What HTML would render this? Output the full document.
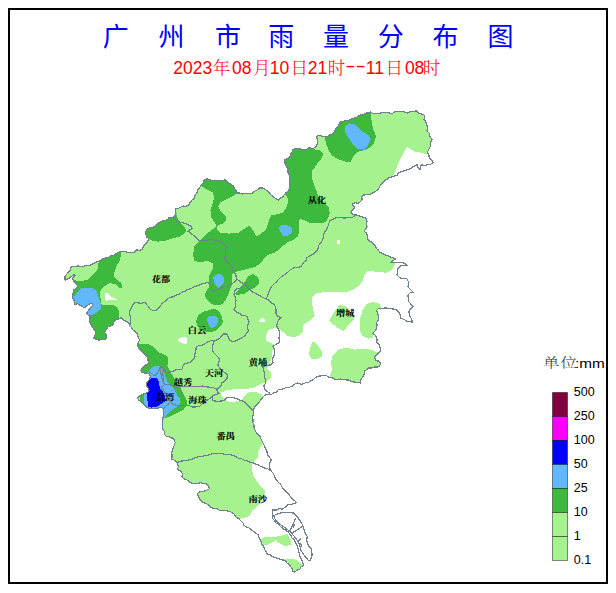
<!DOCTYPE html>
<html><head><meta charset="utf-8"><title>广州市雨量分布图</title>
<style>
html,body{margin:0;padding:0;background:#fff;}
body{width:616px;height:593px;position:relative;overflow:hidden;}
.frame{position:absolute;left:8px;top:8px;width:600px;height:576px;box-sizing:border-box;border:2px solid #000;}
</style></head><body>
<div class="frame"></div>
<svg width="616" height="593" viewBox="0 0 616 593" style="position:absolute;left:0;top:0"><defs><clipPath id="m"><polygon points="65.0,280.1 65.0,276.5 67.2,273.6 70.0,270.8 70.8,267.2 73.3,266.6 75.8,266.5 78.2,265.9 80.6,266.8 83.0,266.5 85.7,265.4 88.7,265.7 91.5,264.4 94.2,263.0 97.1,261.7 100.2,260.9 102.9,258.7 106.3,257.9 108.7,257.2 110.8,255.8 113.4,255.9 115.3,254.3 117.4,252.8 119.8,251.6 122.5,251.8 125.7,251.6 128.6,252.8 131.1,252.7 133.6,252.8 136.7,249.8 139.2,250.4 141.7,249.8 143.7,245.8 146.8,242.7 148.8,238.7 146.8,237.0 145.8,234.6 145.8,232.0 146.8,229.6 149.8,227.6 152.4,227.3 154.9,226.5 157.9,223.5 160.9,221.5 165.0,220.5 167.5,219.6 169.0,217.4 173.1,217.4 174.7,215.5 176.1,213.4 175.4,210.9 175.1,208.3 177.8,208.6 180.2,207.3 183.1,206.0 186.2,206.3 188.7,204.7 190.3,202.3 192.0,200.0 194.3,198.2 195.3,194.9 197.4,192.1 198.1,189.3 200.0,187.1 201.1,184.7 203.1,183.0 204.0,180.5 206.1,178.9 209.2,179.2 212.1,180.5 215.1,180.6 218.2,180.5 221.8,180.4 225.3,179.9 228.3,183.0 231.0,184.3 233.4,186.0 234.3,188.4 236.1,190.4 236.4,193.1 239.6,192.9 242.5,194.1 245.0,193.4 247.6,193.9 250.1,193.2 252.6,193.1 254.8,191.1 257.4,189.8 259.7,188.0 262.7,188.0 264.8,189.3 267.0,190.5 268.8,192.1 271.0,195.0 273.9,197.1 276.2,198.9 278.9,200.2 280.3,198.2 282.4,196.9 284.0,195.1 285.7,193.1 287.8,191.4 289.0,189.0 289.9,186.1 290.0,183.0 289.3,180.4 290.1,177.6 289.0,175.0 287.9,172.0 288.0,168.8 286.4,166.3 285.0,163.7 285.0,159.7 287.7,158.6 290.0,156.7 290.5,154.1 292.0,152.0 293.1,149.6 296.0,148.3 299.2,148.6 302.7,149.4 306.2,149.6 309.3,147.6 313.3,148.6 316.4,146.5 317.4,142.5 317.3,139.4 316.4,136.4 320.0,135.4 322.5,136.3 325.1,137.0 327.7,136.7 329.7,135.0 332.1,134.4 333.7,132.6 335.0,130.4 336.2,128.3 338.0,126.0 339.5,123.5 341.2,121.2 343.9,121.3 346.3,120.2 349.0,120.4 351.4,119.2 353.7,118.2 356.2,117.5 358.4,116.2 360.5,114.5 363.3,114.5 365.5,113.2 368.1,112.9 370.6,112.1 372.9,113.5 375.6,113.2 379.2,113.4 382.7,112.5 385.3,112.3 387.8,112.7 390.3,113.3 392.8,113.2 395.0,111.5 397.7,111.4 400.4,111.7 403.1,111.4 407.1,113.1 411.2,111.4 415.2,111.7 416.2,110.4 417.9,112.8 420.6,113.8 424.0,114.8 424.7,117.8 424.0,119.5 425.4,121.2 426.7,124.6 427.4,127.3 427.0,131.0 429.4,133.3 430.1,136.7 432.1,139.4 430.8,141.8 430.3,146.5 428.8,149.6 427.2,152.6 428.8,154.9 429.3,157.7 432.3,160.7 433.3,162.7 430.5,164.4 427.2,164.8 424.2,165.5 421.2,164.8 420.3,167.2 420.2,169.8 418.1,167.6 417.1,164.8 413.1,166.8 410.2,168.7 407.0,169.8 404.0,171.0 400.9,171.8 398.5,172.6 397.3,175.1 394.9,175.9 391.9,177.0 388.8,177.9 386.7,179.5 384.3,180.8 382.7,183.0 380.9,184.7 379.5,186.7 378.7,189.0 376.2,191.0 373.4,192.5 370.6,194.1 367.2,194.8 363.8,195.0 361.8,197.0 362.2,199.1 360.6,201.5 358.1,203.5 355.3,202.8 352.5,203.5 352.9,205.1 354.9,207.2 353.3,209.2 351.3,211.2 350.8,212.5 352.5,214.1 355.7,214.5 357.3,215.3 360.6,216.5 363.8,217.3 366.3,218.5 367.1,221.8 366.3,224.2 367.1,226.7 365.5,229.1 364.2,231.5 366.3,233.1 367.6,235.4 367.3,238.1 368.6,240.5 371.0,241.5 372.6,243.5 375.1,245.7 376.7,248.6 378.6,250.3 379.7,252.6 382.4,253.2 384.8,254.6 387.3,255.6 389.8,256.7 392.8,257.8 395.9,258.7 392.8,260.7 390.8,262.7 394.9,262.7 397.4,262.3 399.9,262.7 402.6,262.4 405.0,263.7 407.0,265.8 403.9,265.9 400.9,265.8 397.9,268.8 397.6,271.9 396.9,274.9 399.9,277.9 403.4,278.5 407.0,278.9 409.0,283.0 408.0,287.0 411.1,290.0 413.1,292.1 410.2,292.9 408.0,295.1 408.2,298.6 409.0,302.1 411.0,304.2 413.1,306.2 410.9,308.6 409.0,311.2 409.2,313.8 410.0,316.3 411.8,319.1 412.1,322.4 409.7,321.2 407.0,321.4 404.2,319.4 400.9,318.3 400.5,315.1 398.9,312.3 397.2,310.3 394.9,309.2 392.3,308.9 389.8,308.2 387.3,308.2 384.8,307.8 381.8,308.7 378.7,308.2 376.7,310.2 377.5,313.3 378.7,316.3 378.4,319.6 376.7,322.4 377.1,325.2 376.5,327.9 375.6,330.5 372.6,333.5 375.1,335.1 376.7,337.6 377.0,340.1 376.7,342.6 378.8,344.2 379.7,346.7 380.7,350.7 377.7,353.7 374.6,356.8 375.6,360.8 378.5,361.0 380.7,362.8 379.7,365.9 377.3,367.0 374.6,366.9 371.7,368.1 368.6,367.9 366.7,369.6 364.5,370.9 364.3,374.2 362.5,377.0 360.9,379.9 360.5,383.1 358.0,382.4 355.4,382.1 352.9,382.0 350.5,381.1 348.3,380.0 345.6,379.9 342.9,379.6 340.2,379.0 337.2,379.6 334.3,378.9 332.0,377.6 329.3,377.4 326.5,375.6 323.2,375.4 320.2,376.0 317.1,376.4 315.1,377.8 313.5,379.7 311.1,380.5 308.8,382.2 306.0,382.6 303.5,383.7 300.9,384.3 298.0,383.0 295.8,383.4 292.4,385.9 288.8,387.6 285.7,387.6 283.3,388.8 280.6,389.3 278.1,389.9 276.4,392.1 273.9,392.7 271.6,394.3 268.8,394.4 266.1,394.5 263.8,396.1 262.1,398.2 260.4,400.3 258.9,402.8 256.5,404.5 254.7,407.3 253.1,410.1 253.7,413.7 252.6,417.2 253.1,419.9 252.8,422.7 254.1,425.3 254.0,427.9 255.1,430.3 256.4,432.6 258.2,434.4 260.0,436.7 261.2,439.4 263.2,443.5 264.5,446.0 265.3,448.6 266.8,450.9 267.3,453.6 268.2,455.9 269.9,457.7 271.3,459.7 269.9,462.8 269.5,466.1 270.5,470.1 272.1,472.0 273.6,473.9 274.5,476.2 275.6,478.5 276.9,480.7 278.6,482.6 280.6,484.3 281.7,486.6 283.2,488.7 284.8,490.6 286.7,492.4 289.1,494.5 290.7,497.2 292.8,499.5 294.6,500.5 296.3,502.7 293.5,503.8 290.8,504.3 288.0,504.4 284.7,507.7 282.2,509.0 279.3,508.8 276.1,510.1 272.7,509.9 272.1,514.3 272.7,518.6 274.6,520.6 276.0,523.0 278.4,524.3 280.4,526.3 282.4,528.2 284.7,529.6 288.0,531.8 290.8,535.1 291.8,537.8 294.1,539.5 295.3,541.7 296.3,543.9 297.9,548.2 299.0,552.6 300.1,557.0 302.3,560.9 303.6,565.3 301.2,566.8 299.8,569.3 296.9,570.1 294.8,572.3 292.8,571.3 291.9,567.9 289.7,565.3 287.0,562.9 284.7,560.2 282.2,560.0 279.8,559.3 277.6,558.2 275.0,557.6 272.7,556.6 270.5,555.1 267.4,554.1 266.1,551.5 264.4,549.1 263.5,546.2 261.4,544.0 260.9,541.2 259.4,538.9 258.3,534.9 256.3,533.4 254.3,531.9 251.7,530.0 249.2,528.1 246.2,526.8 243.9,525.3 242.9,522.7 240.9,521.0 238.8,518.5 235.9,517.0 234.7,514.7 232.8,513.0 229.9,511.5 226.8,510.9 224.1,510.6 221.3,510.8 218.7,509.9 216.2,508.4 213.2,508.2 210.6,506.9 208.5,505.1 206.3,503.5 203.5,502.8 201.4,500.9 199.5,498.8 198.3,496.3 197.4,493.7 199.5,491.7 202.6,491.9 205.5,490.7 209.6,488.7 207.6,484.6 205.3,483.6 202.7,483.8 200.5,482.6 198.1,483.7 195.4,483.6 192.8,483.7 190.4,482.6 188.4,480.7 185.9,479.5 183.3,478.6 182.0,476.4 182.4,473.7 181.2,471.5 177.2,469.5 178.5,467.0 176.9,462.6 174.8,460.3 171.8,459.3 172.1,455.9 171.8,452.5 172.4,449.9 173.5,447.5 174.4,445.0 175.2,442.4 173.5,438.2 170.8,437.9 168.4,436.5 165.9,436.0 164.2,434.0 164.1,431.2 162.5,428.9 162.8,426.1 162.5,423.3 162.5,420.5 163.4,416.0 163.9,411.6 163.4,408.6 161.3,407.6 157.3,408.1 153.2,408.4 149.7,408.6 147.2,407.6 144.6,405.0 142.1,402.5 139.1,400.5 137.6,398.5 138.6,396.4 141.1,394.9 144.1,393.9 147.7,392.4 149.2,390.4 148.2,388.3 146.7,386.3 146.2,383.8 147.2,381.8 149.7,379.2 150.2,376.7 149.7,374.2 146.2,373.2 142.1,372.7 140.6,370.6 142.1,368.1 145.1,365.6 148.2,363.0 148.0,359.0 146.5,356.0 143.0,353.0 141.5,350.5 139.0,349.0 137.5,346.0 138.3,342.5 139.5,340.0 138.2,337.0 137.2,334.0 135.4,331.5 132.8,329.9 131.7,327.6 129.8,325.9 128.6,322.6 124.4,320.6 121.3,317.6 119.0,319.1 116.3,319.6 113.7,321.6 113.2,324.7 110.9,326.1 108.2,326.7 105.9,329.6 104.5,332.4 106.6,335.3 105.9,338.9 101.6,339.6 98.8,340.0 95.9,339.6 93.7,338.2 94.4,335.8 95.9,333.9 95.1,330.3 92.3,327.4 90.8,323.8 89.4,321.0 90.1,318.1 89.4,315.2 90.4,316.0 87.2,314.7 86.9,312.8 88.5,310.2 91.1,307.6 93.0,304.1 89.8,303.5 87.2,305.7 84.7,307.6 83.1,307.0 79.5,305.1 77.6,303.8 74.4,304.4 74.1,300.6 72.5,298.0 72.5,294.8 73.4,292.3 73.8,289.7 76.3,288.4 77.9,285.8 76.3,283.8 74.4,282.0 72.2,277.9 75.1,275.8 74.3,274.3 72.2,275.8 68.6,278.6"/></clipPath></defs><polygon points="65.0,280.1 65.0,276.5 67.2,273.6 70.0,270.8 70.8,267.2 73.3,266.6 75.8,266.5 78.2,265.9 80.6,266.8 83.0,266.5 85.7,265.4 88.7,265.7 91.5,264.4 94.2,263.0 97.1,261.7 100.2,260.9 102.9,258.7 106.3,257.9 108.7,257.2 110.8,255.8 113.4,255.9 115.3,254.3 117.4,252.8 119.8,251.6 122.5,251.8 125.7,251.6 128.6,252.8 131.1,252.7 133.6,252.8 136.7,249.8 139.2,250.4 141.7,249.8 143.7,245.8 146.8,242.7 148.8,238.7 146.8,237.0 145.8,234.6 145.8,232.0 146.8,229.6 149.8,227.6 152.4,227.3 154.9,226.5 157.9,223.5 160.9,221.5 165.0,220.5 167.5,219.6 169.0,217.4 173.1,217.4 174.7,215.5 176.1,213.4 175.4,210.9 175.1,208.3 177.8,208.6 180.2,207.3 183.1,206.0 186.2,206.3 188.7,204.7 190.3,202.3 192.0,200.0 194.3,198.2 195.3,194.9 197.4,192.1 198.1,189.3 200.0,187.1 201.1,184.7 203.1,183.0 204.0,180.5 206.1,178.9 209.2,179.2 212.1,180.5 215.1,180.6 218.2,180.5 221.8,180.4 225.3,179.9 228.3,183.0 231.0,184.3 233.4,186.0 234.3,188.4 236.1,190.4 236.4,193.1 239.6,192.9 242.5,194.1 245.0,193.4 247.6,193.9 250.1,193.2 252.6,193.1 254.8,191.1 257.4,189.8 259.7,188.0 262.7,188.0 264.8,189.3 267.0,190.5 268.8,192.1 271.0,195.0 273.9,197.1 276.2,198.9 278.9,200.2 280.3,198.2 282.4,196.9 284.0,195.1 285.7,193.1 287.8,191.4 289.0,189.0 289.9,186.1 290.0,183.0 289.3,180.4 290.1,177.6 289.0,175.0 287.9,172.0 288.0,168.8 286.4,166.3 285.0,163.7 285.0,159.7 287.7,158.6 290.0,156.7 290.5,154.1 292.0,152.0 293.1,149.6 296.0,148.3 299.2,148.6 302.7,149.4 306.2,149.6 309.3,147.6 313.3,148.6 316.4,146.5 317.4,142.5 317.3,139.4 316.4,136.4 320.0,135.4 322.5,136.3 325.1,137.0 327.7,136.7 329.7,135.0 332.1,134.4 333.7,132.6 335.0,130.4 336.2,128.3 338.0,126.0 339.5,123.5 341.2,121.2 343.9,121.3 346.3,120.2 349.0,120.4 351.4,119.2 353.7,118.2 356.2,117.5 358.4,116.2 360.5,114.5 363.3,114.5 365.5,113.2 368.1,112.9 370.6,112.1 372.9,113.5 375.6,113.2 379.2,113.4 382.7,112.5 385.3,112.3 387.8,112.7 390.3,113.3 392.8,113.2 395.0,111.5 397.7,111.4 400.4,111.7 403.1,111.4 407.1,113.1 411.2,111.4 415.2,111.7 416.2,110.4 417.9,112.8 420.6,113.8 424.0,114.8 424.7,117.8 424.0,119.5 425.4,121.2 426.7,124.6 427.4,127.3 427.0,131.0 429.4,133.3 430.1,136.7 432.1,139.4 430.8,141.8 430.3,146.5 428.8,149.6 427.2,152.6 428.8,154.9 429.3,157.7 432.3,160.7 433.3,162.7 430.5,164.4 427.2,164.8 424.2,165.5 421.2,164.8 420.3,167.2 420.2,169.8 418.1,167.6 417.1,164.8 413.1,166.8 410.2,168.7 407.0,169.8 404.0,171.0 400.9,171.8 398.5,172.6 397.3,175.1 394.9,175.9 391.9,177.0 388.8,177.9 386.7,179.5 384.3,180.8 382.7,183.0 380.9,184.7 379.5,186.7 378.7,189.0 376.2,191.0 373.4,192.5 370.6,194.1 367.2,194.8 363.8,195.0 361.8,197.0 362.2,199.1 360.6,201.5 358.1,203.5 355.3,202.8 352.5,203.5 352.9,205.1 354.9,207.2 353.3,209.2 351.3,211.2 350.8,212.5 352.5,214.1 355.7,214.5 357.3,215.3 360.6,216.5 363.8,217.3 366.3,218.5 367.1,221.8 366.3,224.2 367.1,226.7 365.5,229.1 364.2,231.5 366.3,233.1 367.6,235.4 367.3,238.1 368.6,240.5 371.0,241.5 372.6,243.5 375.1,245.7 376.7,248.6 378.6,250.3 379.7,252.6 382.4,253.2 384.8,254.6 387.3,255.6 389.8,256.7 392.8,257.8 395.9,258.7 392.8,260.7 390.8,262.7 394.9,262.7 397.4,262.3 399.9,262.7 402.6,262.4 405.0,263.7 407.0,265.8 403.9,265.9 400.9,265.8 397.9,268.8 397.6,271.9 396.9,274.9 399.9,277.9 403.4,278.5 407.0,278.9 409.0,283.0 408.0,287.0 411.1,290.0 413.1,292.1 410.2,292.9 408.0,295.1 408.2,298.6 409.0,302.1 411.0,304.2 413.1,306.2 410.9,308.6 409.0,311.2 409.2,313.8 410.0,316.3 411.8,319.1 412.1,322.4 409.7,321.2 407.0,321.4 404.2,319.4 400.9,318.3 400.5,315.1 398.9,312.3 397.2,310.3 394.9,309.2 392.3,308.9 389.8,308.2 387.3,308.2 384.8,307.8 381.8,308.7 378.7,308.2 376.7,310.2 377.5,313.3 378.7,316.3 378.4,319.6 376.7,322.4 377.1,325.2 376.5,327.9 375.6,330.5 372.6,333.5 375.1,335.1 376.7,337.6 377.0,340.1 376.7,342.6 378.8,344.2 379.7,346.7 380.7,350.7 377.7,353.7 374.6,356.8 375.6,360.8 378.5,361.0 380.7,362.8 379.7,365.9 377.3,367.0 374.6,366.9 371.7,368.1 368.6,367.9 366.7,369.6 364.5,370.9 364.3,374.2 362.5,377.0 360.9,379.9 360.5,383.1 358.0,382.4 355.4,382.1 352.9,382.0 350.5,381.1 348.3,380.0 345.6,379.9 342.9,379.6 340.2,379.0 337.2,379.6 334.3,378.9 332.0,377.6 329.3,377.4 326.5,375.6 323.2,375.4 320.2,376.0 317.1,376.4 315.1,377.8 313.5,379.7 311.1,380.5 308.8,382.2 306.0,382.6 303.5,383.7 300.9,384.3 298.0,383.0 295.8,383.4 292.4,385.9 288.8,387.6 285.7,387.6 283.3,388.8 280.6,389.3 278.1,389.9 276.4,392.1 273.9,392.7 271.6,394.3 268.8,394.4 266.1,394.5 263.8,396.1 262.1,398.2 260.4,400.3 258.9,402.8 256.5,404.5 254.7,407.3 253.1,410.1 253.7,413.7 252.6,417.2 253.1,419.9 252.8,422.7 254.1,425.3 254.0,427.9 255.1,430.3 256.4,432.6 258.2,434.4 260.0,436.7 261.2,439.4 263.2,443.5 264.5,446.0 265.3,448.6 266.8,450.9 267.3,453.6 268.2,455.9 269.9,457.7 271.3,459.7 269.9,462.8 269.5,466.1 270.5,470.1 272.1,472.0 273.6,473.9 274.5,476.2 275.6,478.5 276.9,480.7 278.6,482.6 280.6,484.3 281.7,486.6 283.2,488.7 284.8,490.6 286.7,492.4 289.1,494.5 290.7,497.2 292.8,499.5 294.6,500.5 296.3,502.7 293.5,503.8 290.8,504.3 288.0,504.4 284.7,507.7 282.2,509.0 279.3,508.8 276.1,510.1 272.7,509.9 272.1,514.3 272.7,518.6 274.6,520.6 276.0,523.0 278.4,524.3 280.4,526.3 282.4,528.2 284.7,529.6 288.0,531.8 290.8,535.1 291.8,537.8 294.1,539.5 295.3,541.7 296.3,543.9 297.9,548.2 299.0,552.6 300.1,557.0 302.3,560.9 303.6,565.3 301.2,566.8 299.8,569.3 296.9,570.1 294.8,572.3 292.8,571.3 291.9,567.9 289.7,565.3 287.0,562.9 284.7,560.2 282.2,560.0 279.8,559.3 277.6,558.2 275.0,557.6 272.7,556.6 270.5,555.1 267.4,554.1 266.1,551.5 264.4,549.1 263.5,546.2 261.4,544.0 260.9,541.2 259.4,538.9 258.3,534.9 256.3,533.4 254.3,531.9 251.7,530.0 249.2,528.1 246.2,526.8 243.9,525.3 242.9,522.7 240.9,521.0 238.8,518.5 235.9,517.0 234.7,514.7 232.8,513.0 229.9,511.5 226.8,510.9 224.1,510.6 221.3,510.8 218.7,509.9 216.2,508.4 213.2,508.2 210.6,506.9 208.5,505.1 206.3,503.5 203.5,502.8 201.4,500.9 199.5,498.8 198.3,496.3 197.4,493.7 199.5,491.7 202.6,491.9 205.5,490.7 209.6,488.7 207.6,484.6 205.3,483.6 202.7,483.8 200.5,482.6 198.1,483.7 195.4,483.6 192.8,483.7 190.4,482.6 188.4,480.7 185.9,479.5 183.3,478.6 182.0,476.4 182.4,473.7 181.2,471.5 177.2,469.5 178.5,467.0 176.9,462.6 174.8,460.3 171.8,459.3 172.1,455.9 171.8,452.5 172.4,449.9 173.5,447.5 174.4,445.0 175.2,442.4 173.5,438.2 170.8,437.9 168.4,436.5 165.9,436.0 164.2,434.0 164.1,431.2 162.5,428.9 162.8,426.1 162.5,423.3 162.5,420.5 163.4,416.0 163.9,411.6 163.4,408.6 161.3,407.6 157.3,408.1 153.2,408.4 149.7,408.6 147.2,407.6 144.6,405.0 142.1,402.5 139.1,400.5 137.6,398.5 138.6,396.4 141.1,394.9 144.1,393.9 147.7,392.4 149.2,390.4 148.2,388.3 146.7,386.3 146.2,383.8 147.2,381.8 149.7,379.2 150.2,376.7 149.7,374.2 146.2,373.2 142.1,372.7 140.6,370.6 142.1,368.1 145.1,365.6 148.2,363.0 148.0,359.0 146.5,356.0 143.0,353.0 141.5,350.5 139.0,349.0 137.5,346.0 138.3,342.5 139.5,340.0 138.2,337.0 137.2,334.0 135.4,331.5 132.8,329.9 131.7,327.6 129.8,325.9 128.6,322.6 124.4,320.6 121.3,317.6 119.0,319.1 116.3,319.6 113.7,321.6 113.2,324.7 110.9,326.1 108.2,326.7 105.9,329.6 104.5,332.4 106.6,335.3 105.9,338.9 101.6,339.6 98.8,340.0 95.9,339.6 93.7,338.2 94.4,335.8 95.9,333.9 95.1,330.3 92.3,327.4 90.8,323.8 89.4,321.0 90.1,318.1 89.4,315.2 90.4,316.0 87.2,314.7 86.9,312.8 88.5,310.2 91.1,307.6 93.0,304.1 89.8,303.5 87.2,305.7 84.7,307.6 83.1,307.0 79.5,305.1 77.6,303.8 74.4,304.4 74.1,300.6 72.5,298.0 72.5,294.8 73.4,292.3 73.8,289.7 76.3,288.4 77.9,285.8 76.3,283.8 74.4,282.0 72.2,277.9 75.1,275.8 74.3,274.3 72.2,275.8 68.6,278.6" fill="#a6f28f" shape-rendering="crispEdges"/><g clip-path="url(#m)" shape-rendering="crispEdges"><polygon points="427.0,154.2 421.2,152.7 416.3,151.9 412.2,150.3 409.0,147.9 406.6,147.0 405.0,150.3 402.5,155.2 400.1,160.0 397.6,164.9 396.0,169.8 393.6,174.6 391.9,177.9 388.0,183.0 400.0,190.0 440.0,175.0 440.0,156.0" fill="#fff"/><polygon points="420.0,258.0 395.9,258.7 394.9,264.8 391.8,269.8 386.8,272.8 376.7,271.8 367.6,270.8 364.5,274.9 362.5,280.9 359.5,285.0 354.4,289.0 346.3,292.3 336.0,292.3 327.0,291.6 315.9,293.6 311.8,297.7 311.8,300.7 312.8,308.8 314.9,315.9 310.8,319.9 305.1,323.5 302.6,326.0 302.6,331.9 299.2,335.3 294.1,337.0 288.2,336.2 284.0,332.8 280.6,330.3 278.1,327.7 272.2,328.6 268.0,330.3 265.4,337.0 266.3,340.4 270.5,342.9 274.7,344.6 272.2,350.5 271.4,358.9 268.8,365.7 267.1,368.2 271.4,372.4 271.4,376.7 268.0,380.9 265.0,382.3 259.5,384.7 253.7,387.7 245.9,389.1 228.4,389.6 221.1,392.5 221.6,395.9 224.5,398.4 226.4,401.3 232.3,401.8 239.1,401.3 242.0,399.3 245.9,394.5 249.8,392.0 255.6,391.6 259.5,393.5 263.4,396.4 265.0,398.4 300.0,420.0 420.0,420.0" fill="#fff"/><polygon points="264.0,442.0 261.2,446.5 258.7,449.6 258.2,452.6 257.7,457.7 255.1,460.2 253.1,462.8 252.3,465.1 252.0,470.5 253.5,476.5 257.2,482.0 262.3,487.5 265.3,491.5 263.8,497.0 260.3,502.6 255.7,508.2 251.7,511.0 250.0,515.5 246.5,517.0 241.0,518.5 238.0,521.0 250.0,540.0 320.0,600.0 320.0,440.0 270.0,440.0" fill="#fff"/><polygon points="336.5,240.5 340.0,240.0 340.5,243.5 337.0,243.8" fill="#fff"/><polygon points="259.3,320.0 261.0,318.2 263.5,317.9 265.2,319.5 264.5,321.6 261.0,322.1 259.5,321.3" fill="#fff"/><polygon points="105.1,293.3 107.7,293.3 111.2,296.8 116.8,299.4 116.8,300.2 108.2,300.4 106.1,300.9 105.1,299.4" fill="#fff"/><polygon points="177.4,339.6 182.1,336.7 186.2,336.7 187.5,343.5 183.5,343.5 179.4,342.1" fill="#fff"/><polygon points="259.4,540.0 265.4,536.9 276.6,536.5 284.7,534.9 287.7,533.9 290.7,540.0 291.7,545.0 284.7,546.0 278.6,543.0 275.5,540.0 273.5,542.0 267.4,545.0 262.4,545.0 255.0,545.0" fill="#a6f28f"/><polygon points="284.7,559.2 294.8,559.2 300.9,563.2 303.9,566.3 299.8,570.3 294.8,572.3 291.7,568.3 288.7,563.2" fill="#a6f28f"/><polygon points="329.1,320.2 334.2,312.3 339.2,305.2 345.3,305.8 350.4,311.5 354.4,319.2 349.3,324.4 343.3,331.3 337.2,327.4 332.1,323.4" fill="#a6f28f"/><polygon points="359.5,320.4 362.5,310.2 366.5,304.2 372.6,302.1 378.7,303.2 381.0,306.2 385.0,320.0 376.0,330.0 374.6,332.5 372.6,337.6 368.6,338.6 362.5,335.5 359.5,330.5" fill="#a6f28f"/><polygon points="332.1,356.8 338.2,349.7 346.3,347.7 354.4,349.7 362.5,348.7 370.6,349.7 375.6,351.7 385.0,352.0 385.0,390.0 330.0,390.0 330.1,375.0 332.1,369.9 331.1,362.8" fill="#a6f28f"/><polygon points="312.0,342.5 315.0,342.0 318.0,345.5 321.5,351.0 321.5,357.0 315.0,359.5 311.0,358.5 309.0,353.5 310.0,348.0" fill="#a6f28f"/><polygon points="322.0,128.0 324.5,137.0 326.0,143.5 328.5,150.0 332.0,155.5 338.5,159.5 345.0,161.5 350.7,162.0 353.7,155.5 358.7,151.5 366.5,149.5 371.0,147.0 373.6,143.5 376.3,136.4 373.6,130.4 371.6,122.3 371.0,105.0 320.0,105.0" fill="#3dba3d"/><polygon points="200.0,170.0 240.0,170.0 236.5,193.5 232.6,196.2 226.5,199.2 220.5,202.3 218.4,206.3 220.5,211.4 225.5,216.4 226.5,219.5 222.5,223.5 217.0,225.8 217.5,229.5 220.5,232.6 228.6,233.6 238.7,232.6 244.8,228.6 248.8,225.5 251.8,228.6 254.9,233.6 256.9,236.7 260.9,233.6 266.0,229.6 269.0,220.5 271.1,215.4 277.1,214.4 283.2,212.4 287.2,206.3 288.3,200.0 286.5,196.2 284.0,193.0 280.0,185.0 285.0,140.0 313.0,140.0 313.5,149.2 319.6,150.2 323.6,154.3 320.6,159.4 316.6,164.4 312.5,170.5 311.5,176.6 313.5,182.6 315.5,188.7 318.6,196.8 324.7,202.9 328.7,206.9 329.7,213.0 328.0,218.5 325.5,222.2 319.6,223.3 310.2,222.8 304.3,220.4 300.7,219.2 298.9,220.4 298.9,225.7 299.5,231.6 297.8,236.3 293.6,239.9 287.7,242.2 283.0,245.8 279.4,249.3 274.7,252.9 270.0,254.1 265.0,256.9 260.9,263.0 254.9,267.0 246.8,269.0 238.7,271.1 232.6,273.1 232.2,279.4 231.7,285.4 229.9,290.1 228.1,294.8 225.7,299.5 222.8,303.7 219.3,305.4 214.5,305.4 210.4,303.1 206.8,299.5 205.1,296.0 205.7,292.4 208.6,287.7 209.5,281.8 209.2,275.9 211.4,271.1 213.4,267.0 212.4,263.0 208.3,260.9 200.2,262.0 194.2,260.9 193.2,254.9 194.2,246.8 199.2,240.7 204.3,236.7 208.3,232.6 212.4,229.6 216.2,226.3 215.4,223.5 211.4,217.4 210.4,210.4 212.4,204.3 214.4,197.2 212.4,192.1 206.3,189.1 201.2,186.1" fill="#3dba3d"/><polygon points="140.0,225.0 150.0,212.0 175.0,212.0 179.2,221.5 184.0,226.0 186.5,231.0 183.0,234.5 179.2,236.7 171.0,238.7 165.0,240.7 157.9,241.7 151.8,240.7 148.8,238.7 140.0,235.0" fill="#3dba3d"/><polygon points="95.0,250.0 121.0,250.0 120.3,260.0 116.5,266.0 115.2,270.0 114.2,273.0 114.2,276.1 116.3,279.1 120.3,282.1 122.3,284.7 122.3,288.7 119.3,287.7 115.2,284.2 111.2,283.2 108.2,283.7 104.1,286.7 100.6,289.7 100.1,294.3 100.6,299.4 101.6,304.9 107.1,305.4 114.2,305.4 117.3,307.4 118.8,310.5 119.3,314.5 119.3,318.1 118.3,319.6 115.0,330.0 100.0,345.0 60.0,345.0 60.0,250.0" fill="#3dba3d"/><polygon points="130.0,338.0 138.8,344.0 147.5,344.0 152.9,346.7 158.3,352.1 165.1,354.8 168.0,357.0 167.9,360.0 167.4,366.1 170.0,371.1 173.0,376.2 175.5,380.2 177.5,384.3 180.6,387.6 184.0,395.0 187.0,400.5 187.0,405.3 183.6,409.5 176.9,412.9 170.1,416.3 163.4,418.8 155.0,425.0 130.0,425.0" fill="#3dba3d"/><polygon points="196.2,320.8 198.0,315.5 202.7,311.9 208.6,310.2 215.1,308.4 219.3,311.9 222.2,317.2 222.8,322.0 220.4,326.7 215.7,330.8 211.0,332.0 205.1,331.4 200.4,329.6 196.8,325.5" fill="#3dba3d"/><polygon points="234.0,294.0 240.0,289.0 244.0,283.0 248.0,276.5 253.0,274.2 258.0,277.2 259.5,282.3 256.0,287.0 250.0,290.0 245.0,293.5 238.0,295.0" fill="#3dba3d"/><polygon points="60.0,250.0 97.0,250.0 98.6,262.0 97.5,269.4 94.5,273.0 91.8,275.7 87.3,279.7 80.5,281.4 74.8,280.2 60.0,285.0" fill="#a6f28f"/><polygon points="345.3,126.3 349.3,123.3 354.4,124.3 360.5,130.4 368.6,135.4 370.6,139.5 367.6,145.5 363.5,149.6 357.4,148.6 352.4,143.5 348.3,137.4 345.3,132.4" fill="#61b8ff"/><polygon points="213.3,277.1 215.7,274.7 220.4,274.1 223.4,276.5 224.0,281.8 221.6,285.4 218.7,287.7 215.7,285.4 213.9,281.8" fill="#61b8ff"/><polygon points="279.4,226.9 283.0,224.5 287.7,225.1 291.8,228.1 291.8,232.8 287.7,235.7 283.6,236.3 281.2,232.8 279.4,229.8" fill="#61b8ff"/><polygon points="207.4,318.4 209.8,315.5 214.5,315.5 217.5,318.4 217.5,323.1 215.1,326.7 211.6,327.9 209.2,325.5 207.4,322.0" fill="#61b8ff"/><polygon points="73.0,298.0 76.0,294.0 80.8,288.4 86.0,288.0 93.0,288.1 96.8,291.6 98.8,298.0 100.7,303.2 101.0,308.3 96.2,312.8 92.4,314.7 87.2,314.7 84.0,310.0 78.0,306.0 72.0,305.0" fill="#61b8ff"/><polygon points="147.2,372.7 150.7,368.6 154.8,366.1 157.8,365.6 160.3,366.6 162.4,367.6 163.4,370.1 164.4,373.2 165.4,376.7 166.4,379.7 167.9,382.8 170.4,385.3 173.0,386.8 174.0,388.3 175.5,392.4 177.5,395.9 180.1,399.0 180.6,401.5 179.6,404.0 175.5,407.6 171.5,410.6 167.9,413.6 165.4,416.7 163.4,420.0 150.0,420.0 147.0,407.0 144.1,405.0 144.1,394.9 146.0,392.0 146.0,384.0 147.2,381.8 148.0,376.0" fill="#61b8ff"/><polygon points="144.0,382.0 147.2,381.8 149.7,378.7 153.2,378.2 156.3,378.2 158.3,380.2 159.3,384.3 159.8,387.8 162.4,390.9 164.4,394.4 165.4,398.0 165.9,400.5 163.4,402.5 159.3,405.0 156.3,407.1 151.2,407.6 148.2,406.6 147.7,402.5 147.2,398.5 146.7,395.4 147.7,392.9 144.0,390.0" fill="#0000fe"/><polygon points="136.0,397.0 139.5,396.0 140.5,400.5 137.0,401.0" fill="#a6f28f"/></g><g fill="none" stroke="#708090" stroke-width="1.2" stroke-linejoin="round" shape-rendering="crispEdges"><polyline points="173.0,217.5 175.3,219.2 177.1,221.5 179.8,222.2 182.5,222.7 185.2,223.5 187.7,224.6 190.3,225.5 192.3,228.6 190.1,229.7 188.0,231.2 190.2,232.4 191.5,234.5 194.1,235.4 196.0,237.5 197.8,239.5 200.2,240.7 203.2,240.4 206.3,240.7 209.3,239.8 212.4,239.7 215.3,240.9 218.4,240.7 221.0,242.2 223.5,243.7 225.3,245.6 227.6,246.8 225.5,249.8 225.5,252.4 225.5,254.9 224.5,258.9 226.4,261.1 228.6,263.0 230.8,264.7 232.2,267.0 233.0,271.0 235.8,274.7 236.2,277.1 237.0,279.4"/><polyline points="129.9,324.7 130.9,321.6 130.3,319.1 130.4,316.6 129.4,314.2 129.4,311.5 130.9,308.5 133.0,304.4 135.5,302.4 138.5,302.9 141.1,303.4 145.0,302.5 148.0,306.0 150.0,309.0 153.1,310.5 156.1,310.4 158.0,308.2 160.1,306.3 161.5,304.3 163.1,302.5 165.2,301.2 167.6,299.1 170.2,297.2 173.4,296.8 176.3,295.2 179.5,294.0 182.4,292.1 184.9,291.4 187.0,289.7 189.5,289.1 191.9,288.1 194.0,286.8 196.5,286.1 200.4,284.8 202.6,283.5 205.1,283.0 207.4,282.4 210.4,284.2 211.6,287.7 212.2,291.8 215.7,290.1 217.9,289.0 220.4,288.9 222.6,287.3 225.2,286.5 227.8,285.9 229.9,284.2 232.5,283.4 234.6,281.8 237.0,279.4"/><polyline points="237.0,279.4 240.5,281.8 242.7,283.2 245.0,284.2 246.5,286.2 248.1,288.1 250.1,289.6 251.8,291.6 254.2,292.6 257.0,294.4 260.2,295.6 263.0,297.7 266.3,298.7"/><polyline points="357.0,215.2 354.6,215.9 352.5,217.3 348.4,217.7 344.4,218.1 341.9,217.7 338.7,217.3 335.4,218.1 332.2,219.4 329.7,221.0 328.9,223.4 328.1,225.8 327.3,228.3 325.7,230.7 324.1,233.1 323.5,237.0 322.0,241.0 319.5,244.0 318.3,246.4 318.0,249.0 316.5,251.0 314.9,252.9 312.7,254.5 310.2,255.5 306.8,258.0 306.0,260.4 304.0,262.0 302.3,264.3 301.0,266.8 297.5,267.3 294.6,267.3 292.6,268.7 290.4,269.7 288.6,271.4 286.2,273.5 283.5,275.4 280.7,277.2 278.4,279.5 276.6,281.7 274.4,283.5 272.1,285.8 270.4,288.6 269.1,291.0 268.3,293.6 267.4,296.2 266.3,298.7"/><polyline points="266.3,298.7 269.0,300.5 271.4,302.7 274.4,304.8 275.7,307.2 276.0,309.8 276.0,314.0 277.3,316.0 281.0,317.6 278.2,320.5 277.2,323.2 276.6,326.0 278.1,328.6 279.8,331.9 279.9,334.9 278.9,337.8 279.8,342.1 277.7,343.3 275.6,344.6 273.0,346.3 274.7,350.5 274.5,353.1 273.9,355.6 272.2,358.9 273.0,362.3 270.5,364.9 266.3,365.7 262.9,366.5 263.8,370.8 264.8,373.2 264.6,375.8 265.0,378.4 265.4,380.9 265.2,383.6 263.8,385.9 264.6,389.3 268.0,391.9 270.5,393.5"/><polyline points="244.5,284.7 241.9,286.7 239.7,288.3 236.8,288.7 234.7,290.6 234.1,294.5 235.6,297.6 236.0,301.0 235.1,303.7 235.3,306.7 234.1,309.4 236.7,312.7 239.4,313.3 241.7,315.3 244.6,315.2 247.1,316.6 247.9,319.3 249.0,321.8 248.1,324.4 247.1,327.0 248.4,330.8 246.5,333.4 244.5,336.0 240.6,338.6 238.0,339.9 235.4,341.2 232.8,341.3 230.2,340.6 228.0,336.7 226.7,334.0 223.3,334.0 221.3,336.1 219.9,338.1 216.5,340.1 213.2,340.8 210.5,340.8 207.1,342.1 203.7,344.8 199.0,345.5 196.3,346.9 195.6,351.6 194.8,354.2 195.0,357.0 192.3,360.4 190.2,362.3 187.5,363.1 184.5,364.0 183.0,366.1 182.1,368.9 180.3,369.8 177.5,369.4 174.7,370.3 171.9,371.7 168.7,372.2 166.3,372.2 164.5,370.8 163.1,368.0 161.7,366.6 159.8,367.1 158.9,370.8 157.1,373.1 154.3,375.9 152.4,374.5 150.6,372.6 148.5,371.0"/><polyline points="214.4,340.5 213.1,343.9 212.4,348.6 213.1,352.0 215.8,354.7 218.5,357.4 219.8,360.1 218.5,362.8 217.8,365.4 219.8,368.1 222.5,370.8 225.5,373.0 227.4,375.0 226.9,378.9 224.5,381.3 222.0,382.8 221.1,385.7 218.6,388.1 216.7,389.6 217.7,392.0 219.6,393.5 215.7,394.5 212.8,395.9 210.8,397.9 207.0,400.3 205.0,401.3 202.5,403.7 200.0,406.0 197.5,406.7 195.0,407.0 192.2,407.1 189.5,405.7 186.7,405.8 182.1,405.6 178.8,406.0 175.6,405.1 172.8,404.2 171.0,402.3 169.1,400.5 167.7,397.7 165.9,394.0 163.6,390.3 161.0,387.5"/><polyline points="161.0,387.5 164.5,384.7 169.1,384.7 171.9,385.5 174.7,386.1 177.2,386.1 179.6,386.5 182.1,386.5 184.7,386.0 187.4,386.8 190.0,386.3 193.5,386.8 197.0,386.4 199.7,386.7 202.4,386.1 205.0,386.7 207.9,387.0 210.8,387.2 213.3,387.7 215.7,388.6 217.7,389.6"/><polyline points="212.8,395.9 212.3,398.4 212.8,400.8 215.3,401.0 217.7,401.3 220.1,401.1 222.5,400.8 225.3,399.6 227.4,397.4 229.9,397.4 232.3,397.4 234.7,398.2 237.1,398.9 239.5,400.0 242.0,400.8 244.7,402.1 246.9,404.2 248.8,406.2 250.8,408.1 253.0,411.0"/><polyline points="159.8,367.1 160.1,369.8 160.3,372.6 161.2,375.0 161.7,377.7 163.1,380.0 163.6,382.8 164.5,384.7"/><polyline points="161.7,366.6 163.4,370.1 162.4,373.2 163.4,377.2 162.9,380.2 163.4,384.3"/><polyline points="176.9,462.6 180.1,461.2 183.6,460.9 186.2,460.6 188.7,459.9 191.3,459.6 193.7,458.4 196.1,457.5 198.7,456.8 201.4,456.8 203.8,455.9 207.3,455.3 210.6,454.2 213.4,453.7 216.2,453.9 219.0,453.4 221.8,453.5 224.6,454.3 227.5,454.2 230.5,454.5 233.2,455.5 235.9,456.7 238.5,458.4 241.6,458.8 244.3,460.1 247.3,460.7 250.0,462.3 253.0,462.8 255.2,464.0 257.7,464.4 259.7,465.9 262.0,466.8 264.6,468.2 267.5,468.7 270.0,470.3"/><polyline points="163.4,408.6 166.4,405.5 169.4,403.5"/><polygon points="273.8,515.4 277.1,514.3 281.4,512.6 286.9,512.1 294.1,513.2 297.9,517.5 300.1,520.8 302.8,525.2 303.9,529.6 305.6,534.0 307.2,536.2 306.7,540.6 307.8,543.9 309.4,547.1 311.6,549.3 312.1,554.8 310.5,560.3 308.3,560.3 305.6,557.0 302.8,553.5 300.8,550.0 299.8,546.0 298.5,542.3 296.0,538.6 293.3,535.2 290.5,532.0 287.2,529.3 283.6,526.8 279.8,524.2 276.6,521.2 274.6,518.4"/><polyline points="295.7,518.1 290.2,530.7"/><polyline points="302.8,526.3 292.4,532.9"/><polyline points="301.2,538.4 297.9,541.7"/><polyline points="294.5,524.0 293.0,528.0"/><polyline points="300.5,543.0 302.0,546.5"/><polygon points="65.0,280.1 65.0,276.5 67.2,273.6 70.0,270.8 70.8,267.2 73.3,266.6 75.8,266.5 78.2,265.9 80.6,266.8 83.0,266.5 85.7,265.4 88.7,265.7 91.5,264.4 94.2,263.0 97.1,261.7 100.2,260.9 102.9,258.7 106.3,257.9 108.7,257.2 110.8,255.8 113.4,255.9 115.3,254.3 117.4,252.8 119.8,251.6 122.5,251.8 125.7,251.6 128.6,252.8 131.1,252.7 133.6,252.8 136.7,249.8 139.2,250.4 141.7,249.8 143.7,245.8 146.8,242.7 148.8,238.7 146.8,237.0 145.8,234.6 145.8,232.0 146.8,229.6 149.8,227.6 152.4,227.3 154.9,226.5 157.9,223.5 160.9,221.5 165.0,220.5 167.5,219.6 169.0,217.4 173.1,217.4 174.7,215.5 176.1,213.4 175.4,210.9 175.1,208.3 177.8,208.6 180.2,207.3 183.1,206.0 186.2,206.3 188.7,204.7 190.3,202.3 192.0,200.0 194.3,198.2 195.3,194.9 197.4,192.1 198.1,189.3 200.0,187.1 201.1,184.7 203.1,183.0 204.0,180.5 206.1,178.9 209.2,179.2 212.1,180.5 215.1,180.6 218.2,180.5 221.8,180.4 225.3,179.9 228.3,183.0 231.0,184.3 233.4,186.0 234.3,188.4 236.1,190.4 236.4,193.1 239.6,192.9 242.5,194.1 245.0,193.4 247.6,193.9 250.1,193.2 252.6,193.1 254.8,191.1 257.4,189.8 259.7,188.0 262.7,188.0 264.8,189.3 267.0,190.5 268.8,192.1 271.0,195.0 273.9,197.1 276.2,198.9 278.9,200.2 280.3,198.2 282.4,196.9 284.0,195.1 285.7,193.1 287.8,191.4 289.0,189.0 289.9,186.1 290.0,183.0 289.3,180.4 290.1,177.6 289.0,175.0 287.9,172.0 288.0,168.8 286.4,166.3 285.0,163.7 285.0,159.7 287.7,158.6 290.0,156.7 290.5,154.1 292.0,152.0 293.1,149.6 296.0,148.3 299.2,148.6 302.7,149.4 306.2,149.6 309.3,147.6 313.3,148.6 316.4,146.5 317.4,142.5 317.3,139.4 316.4,136.4 320.0,135.4 322.5,136.3 325.1,137.0 327.7,136.7 329.7,135.0 332.1,134.4 333.7,132.6 335.0,130.4 336.2,128.3 338.0,126.0 339.5,123.5 341.2,121.2 343.9,121.3 346.3,120.2 349.0,120.4 351.4,119.2 353.7,118.2 356.2,117.5 358.4,116.2 360.5,114.5 363.3,114.5 365.5,113.2 368.1,112.9 370.6,112.1 372.9,113.5 375.6,113.2 379.2,113.4 382.7,112.5 385.3,112.3 387.8,112.7 390.3,113.3 392.8,113.2 395.0,111.5 397.7,111.4 400.4,111.7 403.1,111.4 407.1,113.1 411.2,111.4 415.2,111.7 416.2,110.4 417.9,112.8 420.6,113.8 424.0,114.8 424.7,117.8 424.0,119.5 425.4,121.2 426.7,124.6 427.4,127.3 427.0,131.0 429.4,133.3 430.1,136.7 432.1,139.4 430.8,141.8 430.3,146.5 428.8,149.6 427.2,152.6 428.8,154.9 429.3,157.7 432.3,160.7 433.3,162.7 430.5,164.4 427.2,164.8 424.2,165.5 421.2,164.8 420.3,167.2 420.2,169.8 418.1,167.6 417.1,164.8 413.1,166.8 410.2,168.7 407.0,169.8 404.0,171.0 400.9,171.8 398.5,172.6 397.3,175.1 394.9,175.9 391.9,177.0 388.8,177.9 386.7,179.5 384.3,180.8 382.7,183.0 380.9,184.7 379.5,186.7 378.7,189.0 376.2,191.0 373.4,192.5 370.6,194.1 367.2,194.8 363.8,195.0 361.8,197.0 362.2,199.1 360.6,201.5 358.1,203.5 355.3,202.8 352.5,203.5 352.9,205.1 354.9,207.2 353.3,209.2 351.3,211.2 350.8,212.5 352.5,214.1 355.7,214.5 357.3,215.3 360.6,216.5 363.8,217.3 366.3,218.5 367.1,221.8 366.3,224.2 367.1,226.7 365.5,229.1 364.2,231.5 366.3,233.1 367.6,235.4 367.3,238.1 368.6,240.5 371.0,241.5 372.6,243.5 375.1,245.7 376.7,248.6 378.6,250.3 379.7,252.6 382.4,253.2 384.8,254.6 387.3,255.6 389.8,256.7 392.8,257.8 395.9,258.7 392.8,260.7 390.8,262.7 394.9,262.7 397.4,262.3 399.9,262.7 402.6,262.4 405.0,263.7 407.0,265.8 403.9,265.9 400.9,265.8 397.9,268.8 397.6,271.9 396.9,274.9 399.9,277.9 403.4,278.5 407.0,278.9 409.0,283.0 408.0,287.0 411.1,290.0 413.1,292.1 410.2,292.9 408.0,295.1 408.2,298.6 409.0,302.1 411.0,304.2 413.1,306.2 410.9,308.6 409.0,311.2 409.2,313.8 410.0,316.3 411.8,319.1 412.1,322.4 409.7,321.2 407.0,321.4 404.2,319.4 400.9,318.3 400.5,315.1 398.9,312.3 397.2,310.3 394.9,309.2 392.3,308.9 389.8,308.2 387.3,308.2 384.8,307.8 381.8,308.7 378.7,308.2 376.7,310.2 377.5,313.3 378.7,316.3 378.4,319.6 376.7,322.4 377.1,325.2 376.5,327.9 375.6,330.5 372.6,333.5 375.1,335.1 376.7,337.6 377.0,340.1 376.7,342.6 378.8,344.2 379.7,346.7 380.7,350.7 377.7,353.7 374.6,356.8 375.6,360.8 378.5,361.0 380.7,362.8 379.7,365.9 377.3,367.0 374.6,366.9 371.7,368.1 368.6,367.9 366.7,369.6 364.5,370.9 364.3,374.2 362.5,377.0 360.9,379.9 360.5,383.1 358.0,382.4 355.4,382.1 352.9,382.0 350.5,381.1 348.3,380.0 345.6,379.9 342.9,379.6 340.2,379.0 337.2,379.6 334.3,378.9 332.0,377.6 329.3,377.4 326.5,375.6 323.2,375.4 320.2,376.0 317.1,376.4 315.1,377.8 313.5,379.7 311.1,380.5 308.8,382.2 306.0,382.6 303.5,383.7 300.9,384.3 298.0,383.0 295.8,383.4 292.4,385.9 288.8,387.6 285.7,387.6 283.3,388.8 280.6,389.3 278.1,389.9 276.4,392.1 273.9,392.7 271.6,394.3 268.8,394.4 266.1,394.5 263.8,396.1 262.1,398.2 260.4,400.3 258.9,402.8 256.5,404.5 254.7,407.3 253.1,410.1 253.7,413.7 252.6,417.2 253.1,419.9 252.8,422.7 254.1,425.3 254.0,427.9 255.1,430.3 256.4,432.6 258.2,434.4 260.0,436.7 261.2,439.4 263.2,443.5 264.5,446.0 265.3,448.6 266.8,450.9 267.3,453.6 268.2,455.9 269.9,457.7 271.3,459.7 269.9,462.8 269.5,466.1 270.5,470.1 272.1,472.0 273.6,473.9 274.5,476.2 275.6,478.5 276.9,480.7 278.6,482.6 280.6,484.3 281.7,486.6 283.2,488.7 284.8,490.6 286.7,492.4 289.1,494.5 290.7,497.2 292.8,499.5 294.6,500.5 296.3,502.7 293.5,503.8 290.8,504.3 288.0,504.4 284.7,507.7 282.2,509.0 279.3,508.8 276.1,510.1 272.7,509.9 272.1,514.3 272.7,518.6 274.6,520.6 276.0,523.0 278.4,524.3 280.4,526.3 282.4,528.2 284.7,529.6 288.0,531.8 290.8,535.1 291.8,537.8 294.1,539.5 295.3,541.7 296.3,543.9 297.9,548.2 299.0,552.6 300.1,557.0 302.3,560.9 303.6,565.3 301.2,566.8 299.8,569.3 296.9,570.1 294.8,572.3 292.8,571.3 291.9,567.9 289.7,565.3 287.0,562.9 284.7,560.2 282.2,560.0 279.8,559.3 277.6,558.2 275.0,557.6 272.7,556.6 270.5,555.1 267.4,554.1 266.1,551.5 264.4,549.1 263.5,546.2 261.4,544.0 260.9,541.2 259.4,538.9 258.3,534.9 256.3,533.4 254.3,531.9 251.7,530.0 249.2,528.1 246.2,526.8 243.9,525.3 242.9,522.7 240.9,521.0 238.8,518.5 235.9,517.0 234.7,514.7 232.8,513.0 229.9,511.5 226.8,510.9 224.1,510.6 221.3,510.8 218.7,509.9 216.2,508.4 213.2,508.2 210.6,506.9 208.5,505.1 206.3,503.5 203.5,502.8 201.4,500.9 199.5,498.8 198.3,496.3 197.4,493.7 199.5,491.7 202.6,491.9 205.5,490.7 209.6,488.7 207.6,484.6 205.3,483.6 202.7,483.8 200.5,482.6 198.1,483.7 195.4,483.6 192.8,483.7 190.4,482.6 188.4,480.7 185.9,479.5 183.3,478.6 182.0,476.4 182.4,473.7 181.2,471.5 177.2,469.5 178.5,467.0 176.9,462.6 174.8,460.3 171.8,459.3 172.1,455.9 171.8,452.5 172.4,449.9 173.5,447.5 174.4,445.0 175.2,442.4 173.5,438.2 170.8,437.9 168.4,436.5 165.9,436.0 164.2,434.0 164.1,431.2 162.5,428.9 162.8,426.1 162.5,423.3 162.5,420.5 163.4,416.0 163.9,411.6 163.4,408.6 161.3,407.6 157.3,408.1 153.2,408.4 149.7,408.6 147.2,407.6 144.6,405.0 142.1,402.5 139.1,400.5 137.6,398.5 138.6,396.4 141.1,394.9 144.1,393.9 147.7,392.4 149.2,390.4 148.2,388.3 146.7,386.3 146.2,383.8 147.2,381.8 149.7,379.2 150.2,376.7 149.7,374.2 146.2,373.2 142.1,372.7 140.6,370.6 142.1,368.1 145.1,365.6 148.2,363.0 148.0,359.0 146.5,356.0 143.0,353.0 141.5,350.5 139.0,349.0 137.5,346.0 138.3,342.5 139.5,340.0 138.2,337.0 137.2,334.0 135.4,331.5 132.8,329.9 131.7,327.6 129.8,325.9 128.6,322.6 124.4,320.6 121.3,317.6 119.0,319.1 116.3,319.6 113.7,321.6 113.2,324.7 110.9,326.1 108.2,326.7 105.9,329.6 104.5,332.4 106.6,335.3 105.9,338.9 101.6,339.6 98.8,340.0 95.9,339.6 93.7,338.2 94.4,335.8 95.9,333.9 95.1,330.3 92.3,327.4 90.8,323.8 89.4,321.0 90.1,318.1 89.4,315.2 90.4,316.0 87.2,314.7 86.9,312.8 88.5,310.2 91.1,307.6 93.0,304.1 89.8,303.5 87.2,305.7 84.7,307.6 83.1,307.0 79.5,305.1 77.6,303.8 74.4,304.4 74.1,300.6 72.5,298.0 72.5,294.8 73.4,292.3 73.8,289.7 76.3,288.4 77.9,285.8 76.3,283.8 74.4,282.0 72.2,277.9 75.1,275.8 74.3,274.3 72.2,275.8 68.6,278.6"/></g><g font-family="'Liberation Serif','Noto Serif CJK SC',serif" font-size="8" font-weight="bold" fill="#000" stroke="#000" stroke-width="0.1" text-anchor="middle"><text x="317" y="203.2" textLength="18.4" lengthAdjust="spacingAndGlyphs">从化</text><text x="161" y="282.1" textLength="18.4" lengthAdjust="spacingAndGlyphs">花都</text><text x="197" y="333.2" textLength="18.4" lengthAdjust="spacingAndGlyphs">白云</text><text x="345.3" y="316.2" textLength="18.4" lengthAdjust="spacingAndGlyphs">增城</text><text x="258" y="364.9" textLength="18.4" lengthAdjust="spacingAndGlyphs">黄埔</text><text x="214" y="376.4" textLength="18.4" lengthAdjust="spacingAndGlyphs">天河</text><text x="183" y="385.1" textLength="18.4" lengthAdjust="spacingAndGlyphs">越秀</text><text x="165" y="399.9" textLength="18.4" lengthAdjust="spacingAndGlyphs">荔湾</text><text x="197.5" y="402.6" textLength="18.4" lengthAdjust="spacingAndGlyphs">海珠</text><text x="225.8" y="439.4" textLength="18.4" lengthAdjust="spacingAndGlyphs">番禺</text><text x="257.8" y="501.5" textLength="18.4" lengthAdjust="spacingAndGlyphs">南沙</text></g><rect x="552.5" y="392.5" width="15" height="24" fill="#800040" stroke="rgba(0,0,0,0.45)" stroke-width="1"/><rect x="552.5" y="416.5" width="15" height="24" fill="#fa00fa" stroke="rgba(0,0,0,0.45)" stroke-width="1"/><rect x="552.5" y="440.5" width="15" height="24" fill="#0000fe" stroke="rgba(0,0,0,0.45)" stroke-width="1"/><rect x="552.5" y="464.5" width="15" height="24" fill="#61b8ff" stroke="rgba(0,0,0,0.45)" stroke-width="1"/><rect x="552.5" y="488.5" width="15" height="24" fill="#3dba3d" stroke="rgba(0,0,0,0.45)" stroke-width="1"/><rect x="552.5" y="512.5" width="15" height="24" fill="#a6f28f" stroke="rgba(0,0,0,0.45)" stroke-width="1"/><rect x="552.5" y="536.5" width="15" height="24" fill="#a6f28f" stroke="rgba(0,0,0,0.45)" stroke-width="1"/><g font-family="'Liberation Sans',Arial,sans-serif" font-size="12.5" fill="#000"><text x="573.8" y="395.6">500</text><text x="573.8" y="419.6">250</text><text x="573.8" y="443.6">100</text><text x="573.8" y="467.6">50</text><text x="573.8" y="491.6">25</text><text x="573.8" y="515.6">10</text><text x="573.8" y="539.6">1</text><text x="573.8" y="563.6">0.1</text></g><g fill="#ff0000"><text x="173.3" y="73.5" font-family="'Liberation Sans',sans-serif" font-size="17.5">2023</text><text x="212.8" y="73.5" font-family="'Noto Serif CJK SC',serif" font-weight="300" font-size="17.5">年</text><text x="232.1" y="73.5" font-family="'Liberation Sans',sans-serif" font-size="17.5">08</text><text x="253.0" y="73.5" font-family="'Noto Serif CJK SC',serif" font-weight="300" font-size="17.5">月</text><text x="269.8" y="73.5" font-family="'Liberation Sans',sans-serif" font-size="17.5">10</text><text x="290.6" y="73.5" font-family="'Noto Serif CJK SC',serif" font-weight="300" font-size="17.5">日</text><text x="307.8" y="73.5" font-family="'Liberation Sans',sans-serif" font-size="17.5">21</text><text x="327.8" y="73.5" font-family="'Noto Serif CJK SC',serif" font-weight="300" font-size="17.5">时</text><text x="345.2" y="72" font-family="'Liberation Sans',sans-serif" font-size="17.5" textLength="20.6" lengthAdjust="spacingAndGlyphs">--</text><text x="365.8" y="73.5" font-family="'Liberation Sans',sans-serif" font-size="17.5">11</text><text x="385.6" y="73.5" font-family="'Noto Serif CJK SC',serif" font-weight="300" font-size="17.5">日</text><text x="404.9" y="73.5" font-family="'Liberation Sans',sans-serif" font-size="17.5">08</text><text x="422.8" y="73.5" font-family="'Noto Serif CJK SC',serif" font-weight="300" font-size="17.5">时</text></g><g fill="#0000ff" font-family="'Noto Sans CJK SC',sans-serif" font-size="26"><text x="102.8" y="45.5">广</text><text x="158.6" y="45.5">州</text><text x="215.0" y="45.5">市</text><text x="268.2" y="45.5">雨</text><text x="323.0" y="45.5">量</text><text x="377.8" y="45.5">分</text><text x="432.6" y="45.5">布</text><text x="487.4" y="45.5">图</text></g><g fill="#000"><text x="543.1" y="366.5" font-family="'Noto Serif CJK SC',serif" font-weight="300" fill="#333" font-size="13" textLength="16.5" lengthAdjust="spacingAndGlyphs">单</text><text x="560.6" y="366.5" font-family="'Noto Serif CJK SC',serif" font-weight="300" fill="#333" font-size="13" textLength="16.5" lengthAdjust="spacingAndGlyphs">位</text><text x="575.0" y="367.8" font-family="'Liberation Sans',sans-serif" font-size="13.5" textLength="29.8" lengthAdjust="spacingAndGlyphs">:mm</text></g></svg>
</body></html>
